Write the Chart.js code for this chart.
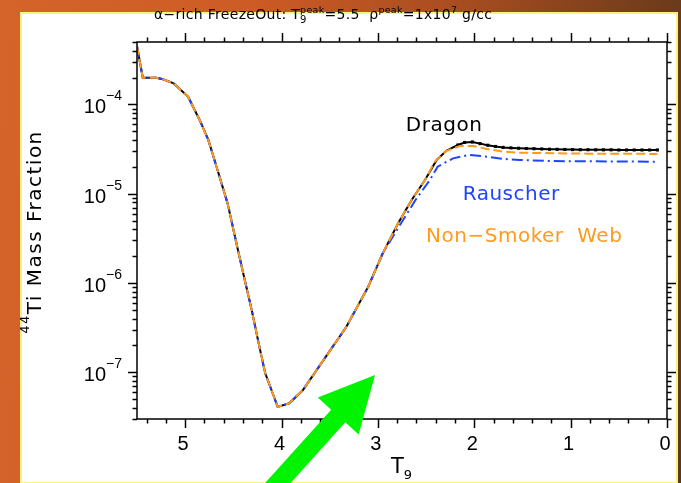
<!DOCTYPE html>
<html lang="en">

<head>
    <meta charset="UTF-8">
    <meta name="viewport" content="width=device-width, initial-scale=1.0">
    <title>44Ti alpha-rich freezeout</title>
    <script src="https://cdn.jsdelivr.net/npm/chart.js"></script>
    <style>
        html, body {
            margin: 0;
            padding: 0;
        }

        body {
            width: 681px;
            height: 483px;
            overflow: hidden;
            position: relative;
            background: linear-gradient(95deg, #d5642b 0%, #cd5b25 35%, #a64c20 65%, #5e3719 100%);
        }

        #panel {
            position: absolute;
            left: 20px;
            top: 12px;
            width: 658px;
            height: 472px;
            box-sizing: border-box;
            background: #fff;
            border: 2px solid #fbf27c;
        }

        #wrap {
            position: absolute;
            left: 0;
            top: 0;
            width: 681px;
            height: 483px;
        }
    </style>
</head>

<body>
    <div id="panel"></div>
    <div id="wrap"><canvas id="tiChart"></canvas></div>
</body>

<script>
    // falling branch, identical for all three rate sets
    const t9Fall = [5.50, 5.44, 5.30, 5.23, 5.12, 4.97, 4.85, 4.76, 4.68, 4.56, 4.46, 4.39, 4.31,
        4.23, 4.17, 4.04, 3.92, 3.78, 3.54, 3.33, 3.10, 2.95];
    const tiFall = [4.5e-4, 1.99e-4, 1.99e-4, 1.91e-4, 1.72e-4, 1.22e-4, 6.7e-5, 4.0e-5, 2.1e-5,
        7.8e-6, 2.55e-6, 1.18e-6, 5.0e-7, 1.94e-7, 9.8e-8, 4.1e-8, 4.5e-8, 6.3e-8, 1.5e-7,
        3.2e-7, 9.1e-7, 2.15e-6];

    // Dragon: rise and freeze-out plateau (markers on the plateau)
    const t9Dragon = [2.79, 2.65, 2.51, 2.39, 2.29, 2.17, 2.10, 2.02, 1.94, 1.86, 1.78, 1.70, 1.62,
        1.54, 1.46, 1.38, 1.30, 1.22, 1.14, 1.06, 0.98, 0.90, 0.82, 0.74, 0.66, 0.58, 0.50, 0.42,
        0.34, 0.26, 0.18, 0.10];
    const tiDragon = [4.67e-6, 8.5e-6, 1.43e-5, 2.39e-5, 3.03e-5, 3.51e-5, 3.75e-5, 3.80e-5, 3.64e-5,
        3.49e-5, 3.38e-5, 3.30e-5, 3.26e-5, 3.23e-5, 3.21e-5, 3.19e-5, 3.17e-5, 3.15e-5, 3.14e-5,
        3.13e-5, 3.12e-5, 3.11e-5, 3.11e-5, 3.10e-5, 3.10e-5, 3.10e-5, 3.09e-5, 3.09e-5, 3.09e-5,
        3.09e-5, 3.09e-5, 3.09e-5];

    // Rauscher
    const t9Rauscher = [2.76, 2.61, 2.46, 2.38, 2.22, 2.05, 1.87, 1.70, 1.53, 1.18, 0.10];
    const tiRauscher = [4.67e-6, 8.5e-6, 1.43e-5, 2.01e-5, 2.49e-5, 2.72e-5, 2.60e-5, 2.45e-5,
        2.39e-5, 2.32e-5, 2.28e-5];

    // Non-Smoker Web
    const t9NonSmoker = [2.79, 2.65, 2.51, 2.41, 2.29, 2.15, 2.01, 1.87, 1.70, 1.53, 1.18, 0.83, 0.10];
    const tiNonSmoker = [4.67e-6, 8.5e-6, 1.43e-5, 2.28e-5, 3.01e-5, 3.42e-5, 3.42e-5, 3.17e-5,
        2.96e-5, 2.88e-5, 2.84e-5, 2.81e-5, 2.79e-5];

    // axis labels
    const xMajor = [0, 1, 2, 3, 4, 5];
    const yDecades = [-7, -6, -5, -4];

    const BLACK = '#000000', BLUE = '#1f44ff', ORANGE = '#ff9a1c';
    const FONT = '"DejaVu Sans"';
    const NUM = '"Liberation Sans"';

    const toPts = (xs, ys) => xs.map((x, i) => ({ x, y: ys[i] }));
    const withFall = (xs, ys) => toPts(t9Fall, tiFall).concat(toPts(xs, ys));

    // draws a row of text pieces: [text, size, dy, font, noAdvance]
    function textRun(ctx, x, y, parts) {
        let cx = x;
        parts.forEach(([t, size, dy, font, hold]) => {
            ctx.font = size + 'px ' + (font || FONT);
            ctx.fillText(t, cx, y + dy);
            if (!hold) cx += ctx.measureText(t).width;
        });
        return cx;
    }

    function runWidth(ctx, parts) {
        let w = 0;
        parts.forEach(([t, size, dy, font, hold]) => {
            ctx.font = size + 'px ' + (font || FONT);
            if (!hold) w += ctx.measureText(t).width;
        });
        return w;
    }

    const frame = {
        id: 'frame',
        afterDatasetsDraw(chart) {
            const { ctx, chartArea: a, scales: { x, y } } = chart;
            ctx.save();
            ctx.strokeStyle = BLACK;
            ctx.fillStyle = BLACK;
            ctx.lineWidth = 1.5;
            ctx.strokeRect(a.left, a.top, a.right - a.left, a.bottom - a.top);

            const seg = (x1, y1, x2, y2) => {
                ctx.beginPath();
                ctx.moveTo(x1, y1);
                ctx.lineTo(x2, y2);
                ctx.stroke();
            };

            // T9 ticks, minor every 0.2
            for (let i = 0; i <= 27; i++) {
                const v = i / 5;
                const px = Math.round(x.getPixelForValue(v)) + 0.5;
                const len = i % 5 === 0 ? 9 : 4.5;
                seg(px, a.bottom, px, a.bottom + len);
                seg(px, a.top, px, a.top - len);
            }

            // log ticks
            for (let d = -8; d <= -4; d++) {
                for (let m = 1; m <= 9; m++) {
                    const v = m * Math.pow(10, d);
                    if (v < y.min || v > y.max) continue;
                    const py = Math.round(y.getPixelForValue(v)) + 0.5;
                    const len = m === 1 ? 9 : 4.5;
                    seg(a.left - len, py, a.left, py);
                    seg(a.right, py, a.right + len, py);
                }
            }

            ctx.textBaseline = 'alphabetic';
            ctx.textAlign = 'left';

            // x tick labels
            ctx.font = '20px ' + NUM;
            xMajor.forEach(v => {
                const px = x.getPixelForValue(v);
                const w = ctx.measureText(String(v)).width;
                ctx.fillText(String(v), px - w / 2 - 2, 450);
            });

            // y tick labels 10^n
            yDecades.forEach(d => {
                const py = y.getPixelForValue(Math.pow(10, d));
                const parts = [['10', 20, 9, NUM], ['\u2212' + Math.abs(d), 14, -4, NUM]];
                const w = runWidth(ctx, parts);
                textRun(ctx, 122 - w, py, parts);
            });

            // x axis title
            textRun(ctx, 391, 473, [['T', 21, 0], ['9', 13, 6]]);

            // y axis title
            ctx.save();
            ctx.translate(41, 232);
            ctx.rotate(-Math.PI / 2);
            ctx.letterSpacing = '1.5px';
            const yParts = [['44', 13, -12], ['Ti Mass Fraction', 20, 0]];
            const yw = runWidth(ctx, yParts);
            textRun(ctx, -yw / 2, 0, yParts);
            ctx.restore();

            // title
            ctx.save();
            ctx.letterSpacing = '0.3px';
            textRun(ctx, 154, 19, [
                ['\u03b1\u2212rich FreezeOut: T', 14, 0],
                ['9', 10, 4, FONT, true],
                ['peak', 9.5, -6],
                ['=5.5  ', 14, 0],
                ['\u03c1', 14, 0, 'italic ' + FONT],
                ['peak', 9.5, -6],
                ['=1x10', 14, 0],
                ['7', 9.5, -6],
                [' g/cc', 14, 0]
            ]);
            ctx.restore();

            // series names
            ctx.save();
            ctx.letterSpacing = '0.5px';
            ctx.font = '20px ' + FONT;
            ctx.fillStyle = BLACK;
            ctx.fillText('Dragon', x.getPixelForValue(2.71), y.getPixelForValue(5.0e-5));
            ctx.fillStyle = BLUE;
            ctx.fillText('Rauscher', x.getPixelForValue(2.12), y.getPixelForValue(8.5e-6));
            ctx.fillStyle = ORANGE;
            ctx.fillText('Non\u2212Smoker  Web', x.getPixelForValue(2.50), y.getPixelForValue(2.88e-6));
            ctx.restore();

            ctx.restore();
        },
        afterDraw(chart) {
            // green pointer aimed at the minimum region
            const { ctx, scales: { x, y } } = chart;
            const tx = x.getPixelForValue(3.03), ty = y.getPixelForValue(9.3e-8);
            const ang = -48 * Math.PI / 180;
            ctx.save();
            ctx.translate(tx, ty);
            ctx.rotate(ang);
            ctx.fillStyle = '#00f400';
            ctx.beginPath();
            ctx.moveTo(0, 0);
            ctx.lineTo(-55, 27.5);
            ctx.lineTo(-55, 9.5);
            ctx.lineTo(-260, 9.5);
            ctx.lineTo(-260, -9.5);
            ctx.lineTo(-55, -9.5);
            ctx.lineTo(-55, -27.5);
            ctx.closePath();
            ctx.fill();
            ctx.restore();
        }
    };

    const ctx = document.getElementById('tiChart').getContext('2d');
    new Chart(ctx, {
        type: 'line',
        data: {
            datasets: [
                {
                    label: 'Non-Smoker Web',
                    data: withFall(t9NonSmoker, tiNonSmoker),
                    borderColor: ORANGE,
                    borderWidth: 2,
                    borderDash: [9, 4],
                    pointRadius: 0,
                    order: 0
                },
                {
                    label: 'Rauscher',
                    data: withFall(t9Rauscher, tiRauscher),
                    borderColor: BLUE,
                    borderWidth: 2,
                    borderDash: [11, 4, 2, 4],
                    pointRadius: 0,
                    order: 1
                },
                {
                    label: 'Dragon',
                    data: withFall(t9Dragon, tiDragon),
                    borderColor: BLACK,
                    backgroundColor: BLACK,
                    pointBackgroundColor: BLACK,
                    pointBorderColor: BLACK,
                    borderWidth: 2,
                    pointStyle: 'rect',
                    pointRadius: c => (c.parsed && c.parsed.x <= 2.2 ? 2.2 : 0),
                    pointBorderWidth: 0,
                    order: 2
                }
            ]
        },
        options: {
            responsive: true,
            maintainAspectRatio: false,
            animation: false,
            layout: { padding: { left: 137, top: 42, right: 14, bottom: 64 } },
            plugins: { legend: { display: false }, tooltip: { enabled: false } },
            scales: {
                x: { type: 'linear', reverse: true, min: 0, max: 5.5, display: false },
                y: { type: 'logarithmic', min: 3e-8, max: 5e-4, display: false }
            }
        },
        plugins: [frame]
    });
</script>

</html>
